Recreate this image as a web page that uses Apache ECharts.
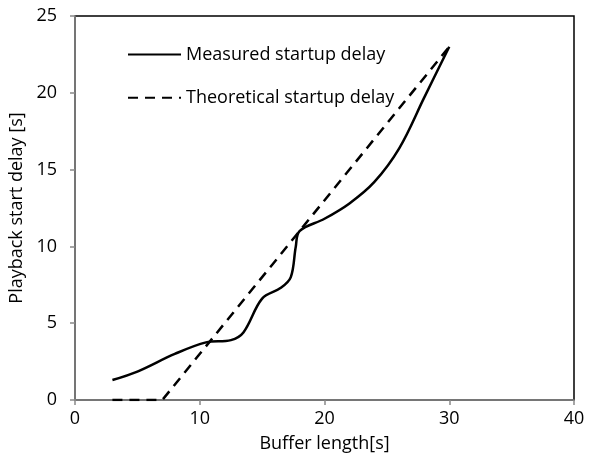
<!DOCTYPE html>
<html>
<head>
<meta charset="utf-8">
<script src="https://cdn.jsdelivr.net/npm/echarts@6/dist/echarts.min.js"></script>
<style>
  html, body { margin: 0; padding: 0; background: #fff; }
  #chart { width: 589px; height: 461px; }
</style>
</head>
<body>
<div id="chart"></div>
<script>
// buffer length [s] vs start delay [s]
var measuredX = [3, 5, 8, 10.5, 12.5, 13.5, 15, 16.5, 17.3, 17.7, 18, 20, 22, 24, 26, 28, 30];
var measuredY = [1.3, 1.85, 3.0, 3.75, 3.9, 4.4, 6.6, 7.3, 8.0, 10.0, 11.0, 11.8, 12.8, 14.2, 16.4, 19.7, 23.0];
var theoryX = [3, 7, 30];
var theoryY = [0, 0, 23];
var seriesNames = ['Measured startup delay', 'Theoretical startup delay'];

function pairs (xs, ys) {
  var out = [];
  for (var i = 0; i < xs.length; i++) {
    out.push([xs[i], ys[i]]);
  }
  return out;
}

var font = '"Open Sans", Lato, sans-serif';
var fs = 18;
var chart = echarts.init(document.getElementById('chart'), null, {renderer: 'canvas'});
var axisLine = {show: true, onZero: false, lineStyle: {color: '#898989', width: 1.5}};
var axisTick = {show: true, inside: false, length: 5, lineStyle: {color: '#898989', width: 1.5}};

var option = {
  animation: false,
  backgroundColor: '#fff',
  grid: {
    left: 75, right: 15, top: 16, bottom: 61,
    outerBoundsMode: 'none',
    show: true, borderColor: '#000', borderWidth: 1.5
  },
  legend: {
    orient: 'vertical',
    left: 127,
    top: 45,
    padding: 0,
    itemGap: 24,
    itemWidth: 53,
    itemHeight: 24,
    data: seriesNames,
    itemStyle: {opacity: 0},
    textStyle: {fontFamily: font, fontSize: fs, color: '#000', padding: [0, 0, 0, 0]}
  },
  xAxis: {
    type: 'value',
    min: 0, max: 40, interval: 10,
    name: 'Buffer length[s]',
    nameLocation: 'middle',
    nameGap: 35,
    nameTextStyle: {fontFamily: font, fontSize: fs, color: '#000'},
    axisLine: axisLine,
    axisTick: axisTick,
    axisLabel: {fontFamily: font, fontSize: fs, color: '#000', margin: 10},
    splitLine: {show: false}
  },
  yAxis: {
    type: 'value',
    min: 0, max: 25, interval: 5,
    name: 'Playback start delay [s]',
    nameLocation: 'middle',
    nameGap: 46,
    nameTextStyle: {fontFamily: font, fontSize: fs, color: '#000'},
    axisLine: axisLine,
    axisTick: axisTick,
    axisLabel: {fontFamily: font, fontSize: fs, color: '#000', margin: 18},
    splitLine: {show: false}
  },
  series: [{
    name: seriesNames[0],
    type: 'line',
    smooth: 0.35,
    symbol: 'none',
    lineStyle: {color: '#000', width: 2.5},
    itemStyle: {color: '#000'},
    data: pairs(measuredX, measuredY)
  }, {
    name: seriesNames[1],
    type: 'line',
    symbol: 'none',
    lineStyle: {color: '#000', width: 2.5, type: [10, 7]},
    itemStyle: {color: '#000'},
    data: pairs(theoryX, theoryY)
  }]
};
chart.setOption(option);
</script>
</body>
</html>
